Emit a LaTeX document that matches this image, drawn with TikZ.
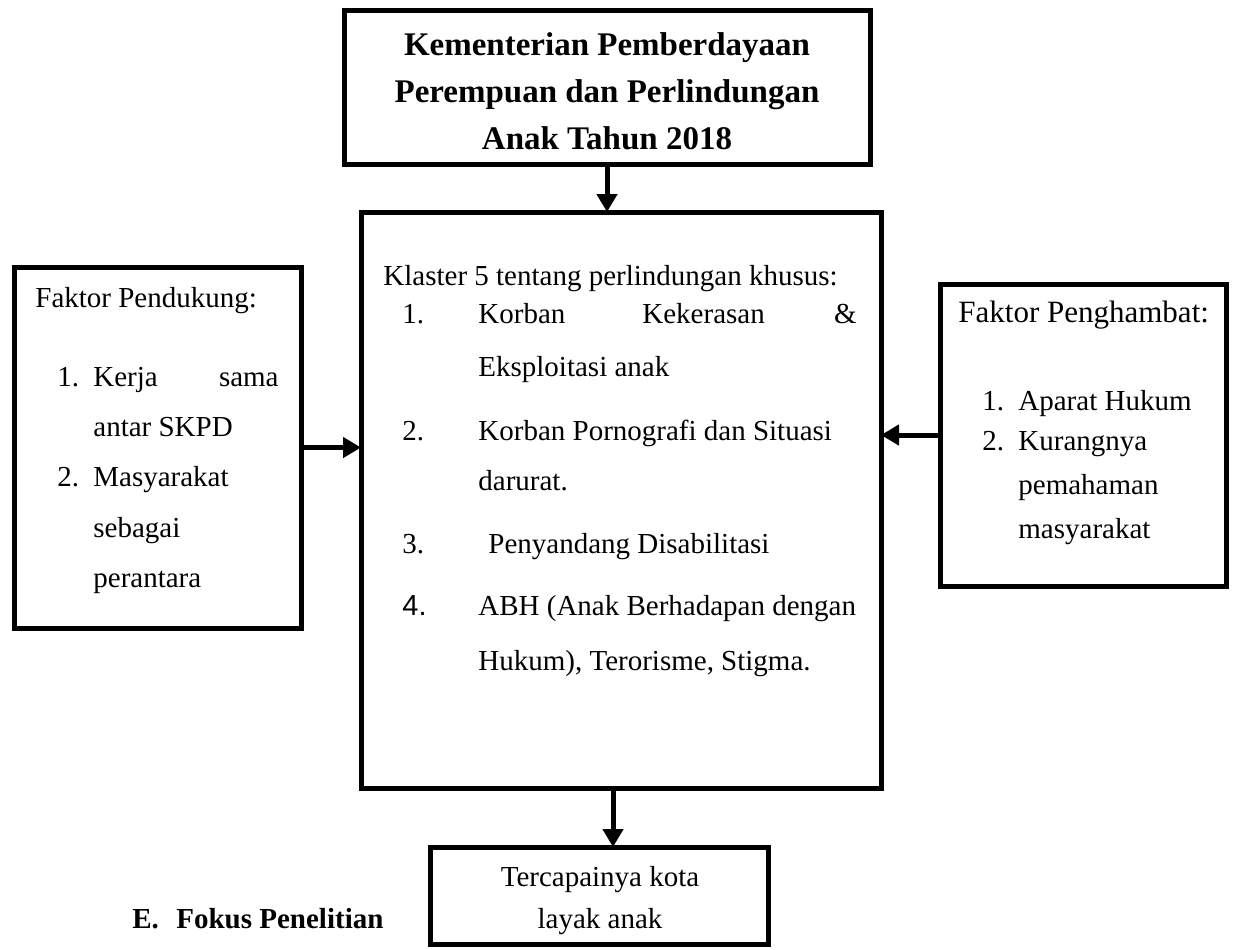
\documentclass[tikz,border=0pt]{standalone}
\usepackage{fontspec}
\setmainfont{Liberation Serif}
\newfontfamily\arialf{Liberation Sans}
\usetikzlibrary{arrows.meta}
\begin{document}
\begin{tikzpicture}[x=0.5pt,y=-0.5pt,
  box/.style={draw, line width=2.5pt, rectangle, inner sep=0pt, outer sep=0pt},
  txt/.style={anchor=base west, inner sep=0pt, font=\fontsize{14.5}{17}\selectfont},
  txtr/.style={anchor=base east, inner sep=0pt, font=\fontsize{14.5}{17}\selectfont},
  txtc/.style={anchor=base, inner sep=0pt, font=\fontsize{14.5}{17}\selectfont},
  bld/.style={anchor=base, inner sep=0pt, font=\fontsize{16.5}{19}\selectfont\bfseries},
  arr/.style={line width=2.5pt, -{Triangle[length=9pt,width=10pt]}}]
\useasboundingbox (0,0) rectangle (1235,949);

% boxes
\node[box, minimum width=263pt, minimum height=77pt] (top) at (607,87) {};
\node[box, minimum width=260pt, minimum height=288pt] (main) at (621,500) {};
\node[box, minimum width=143.5pt, minimum height=180.5pt] (left) at (157.5,447.5) {};
\node[box, minimum width=143pt, minimum height=151pt] (right) at (1083,435) {};
\node[box, minimum width=169pt, minimum height=48.5pt] (bottom) at (599,895.5) {};

% connectors
\draw[arr] (top.south) -- (top.south |- main.north);
\draw[arr] (left.east) -- (left.east -| main.west);
\draw[arr] (right.west) -- (right.west -| main.east);
\coordinate (mb) at (613,788);
\draw[arr] (mb) -- (mb |- bottom.north);

% top box text
\node[bld] (t1) at (607,55) {Kementerian Pemberdayaan};
\node[bld] (t2) at (607,102) {Perempuan dan Perlindungan};
\node[bld] (t3) at (607,149) {Anak Tahun 2018};

% bottom box text
\node[txtc] (b1) at (600,886) {Tercapainya kota};
\node[txtc] (b2) at (600,928) {layak anak};

% left box text
\node[txt] (l0) at (35,307) {Faktor Pendukung:};
\node[txt] (l1n) at (57,386) {1.};
\node[txt] (l1a) at (93,386) {Kerja};
\node[txtr] (l1b) at (279,386) {sama};
\node[txt] (l1c) at (93,436) {antar SKPD};
\node[txt] (l2n) at (57,486) {2.};
\node[txt] (l2a) at (93,486) {Masyarakat};
\node[txt] (l2b) at (93,537) {sebagai};
\node[txt] (l2c) at (93,587) {perantara};

% right box text
\node[txt, font=\fontsize{15.5}{18}\selectfont] (r0) at (958,322) {Faktor Penghambat:};
\node[txt] (r1n) at (982,410) {1.};
\node[txt] (r1a) at (1018,410) {Aparat Hukum};
\node[txt] (r2n) at (982,450) {2.};
\node[txt] (r2a) at (1018,450) {Kurangnya};
\node[txt] (r2b) at (1018,494) {pemahaman};
\node[txt] (r2c) at (1018,538) {masyarakat};

% main box text
\node[txt] (m0) at (383,285) {Klaster 5 tentang perlindungan khusus:};
\node[txt] (m1n) at (402,323) {1.};
\node[txt] (m1a) at (478,323) {Korban};
\node[txt] (m1b) at (642,323) {Kekerasan};
\node[txtr] (m1c) at (857,323) {\&};
\node[txt] (m1d) at (478,376) {Eksploitasi anak};
\node[txt] (m2n) at (402,440) {2.};
\node[txt] (m2a) at (478,440) {Korban Pornografi dan Situasi};
\node[txt] (m2b) at (478,490) {darurat.};
\node[txt] (m3n) at (402,553) {3.};
\node[txt] (m3a) at (488,553) {Penyandang Disabilitasi};
\node[txt, font=\fontsize{14.5}{17}\arialf] (m4n) at (402,615) {4.};
\node[txt] (m4a) at (478,615) {ABH (Anak Berhadapan dengan};
\node[txt] (m4b) at (478,670) {Hukum), Terorisme, Stigma.};

% heading
\node[anchor=base west, inner sep=0pt, font=\fontsize{14.5}{17}\selectfont\bfseries] (e1) at (132,928) {E.};
\node[anchor=base west, inner sep=0pt, font=\fontsize{14.5}{17}\selectfont\bfseries] (e2) at (176,928) {Fokus Penelitian};
\end{tikzpicture}
\end{document}
